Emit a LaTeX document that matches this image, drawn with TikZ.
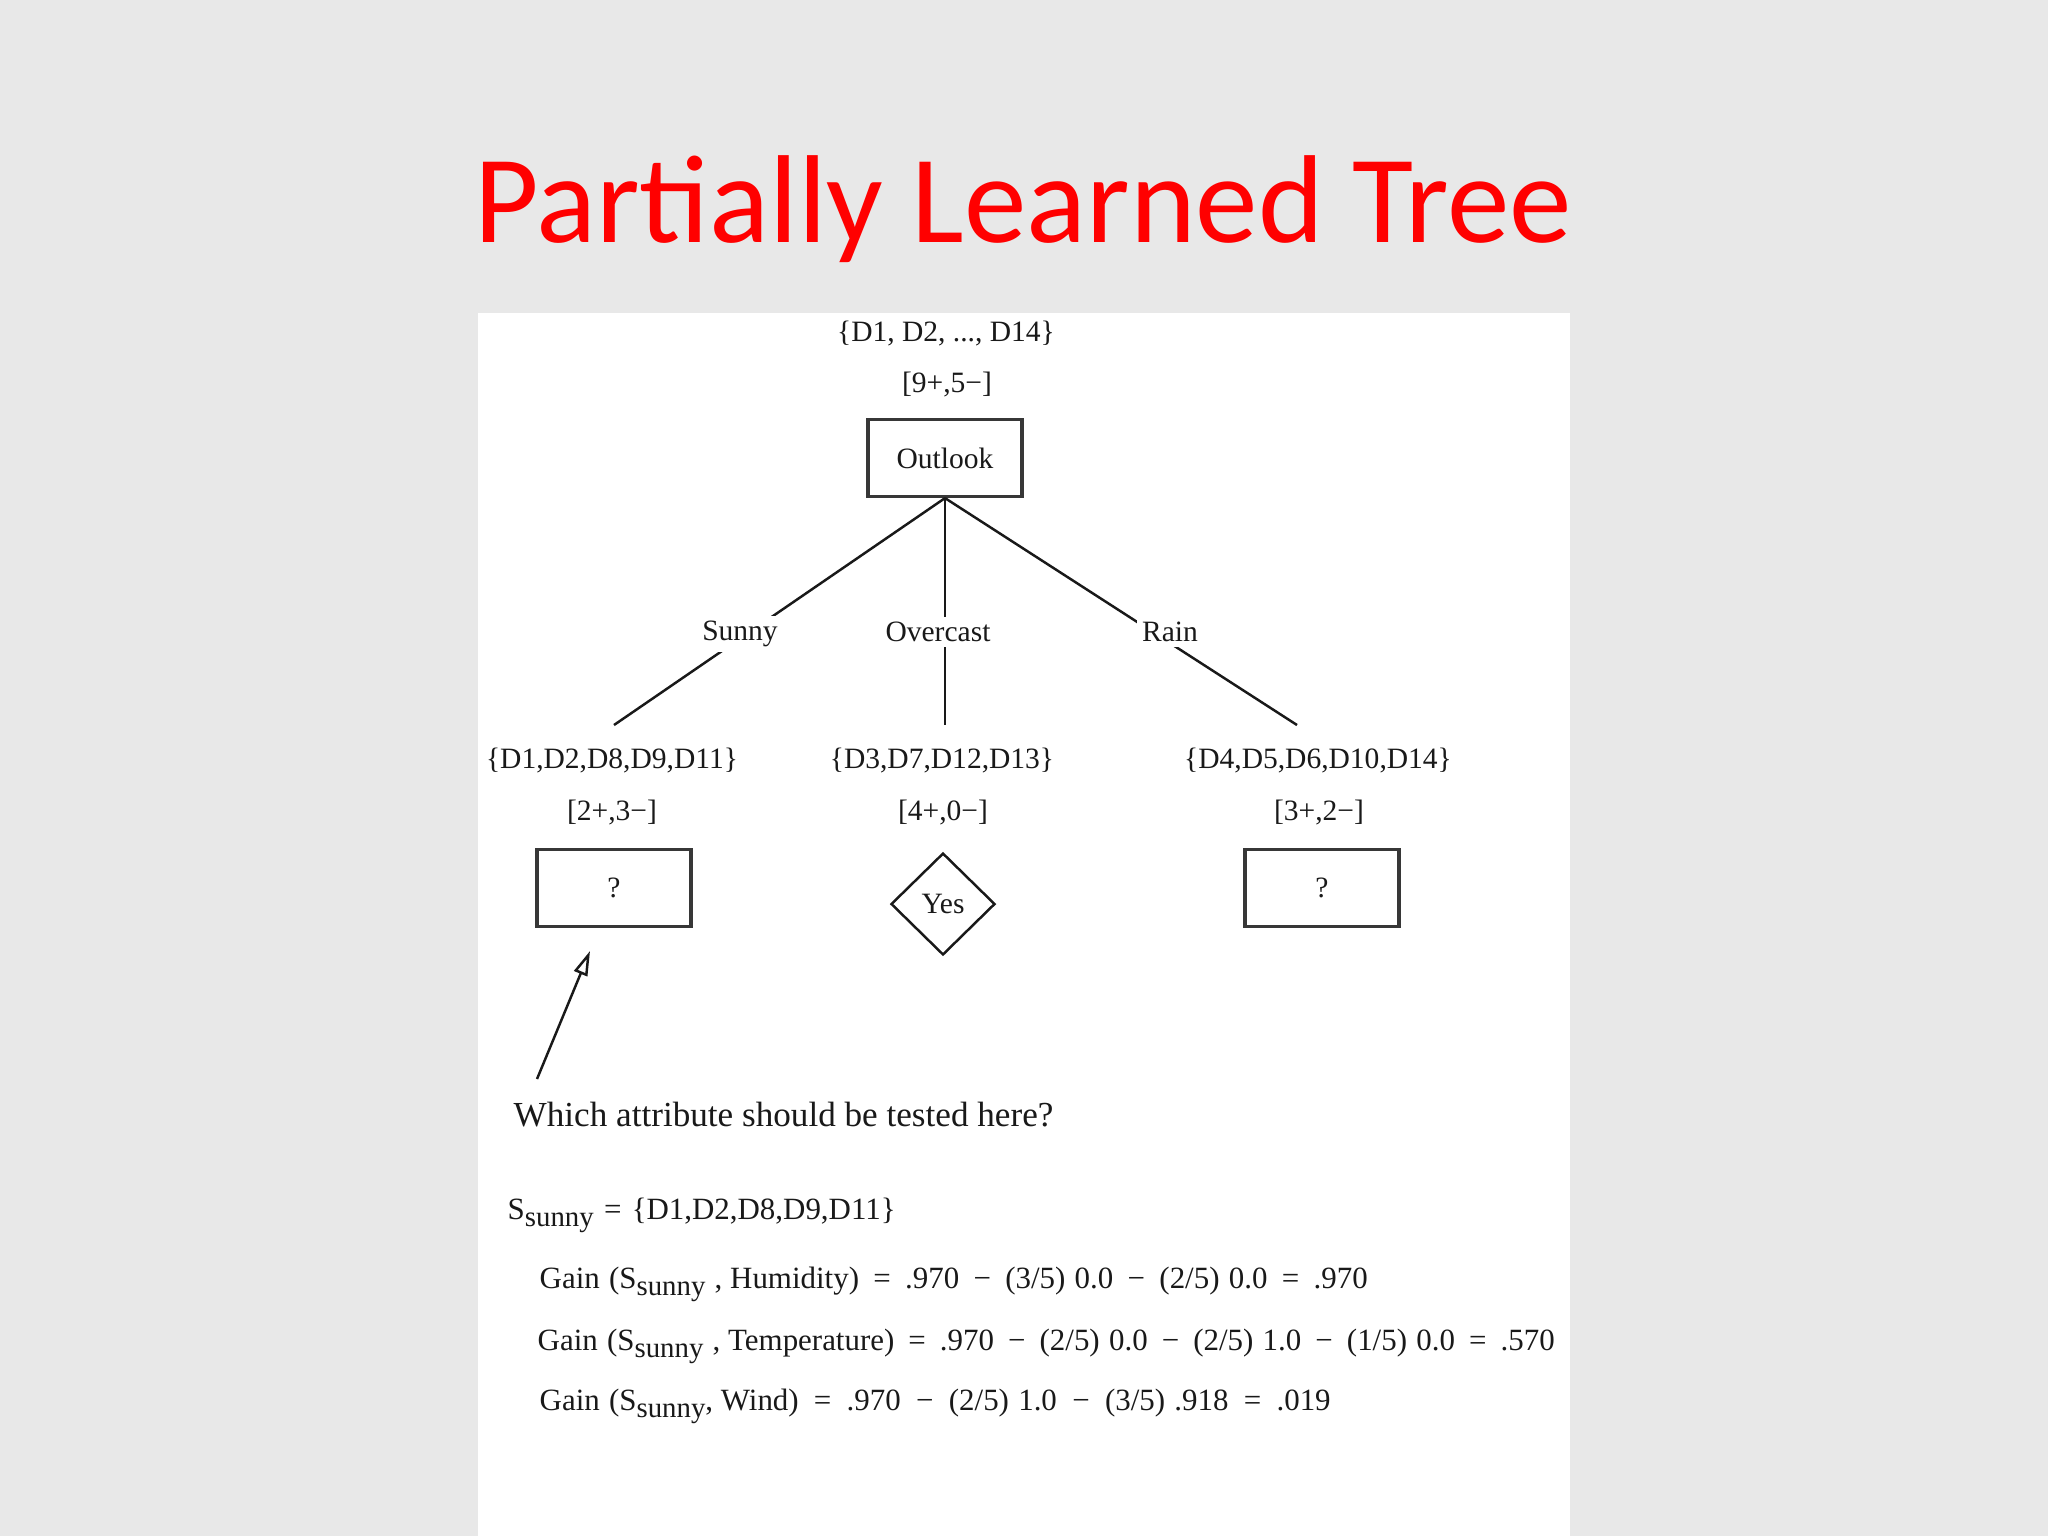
\documentclass[tikz,border=0pt]{standalone}
\usepackage{fontspec}
\setmainfont{Liberation Serif}
\newfontfamily\titlefont{Carlito}
\usetikzlibrary{shapes.geometric,arrows.meta}
\newlength\px \setlength\px{0.1mm}
\definecolor{bggray}{RGB}{232,232,232}
\definecolor{ink}{RGB}{25,25,25}
\definecolor{boxline}{RGB}{55,55,55}
\definecolor{titlered}{RGB}{255,0,0}
\newcommand\Ssunny{S\raisebox{-0.55ex}{\fontsize{8.2pt}{9pt}\selectfont sunny}}
\tikzset{
  treetext/.style={font=\fontsize{8.4pt}{10pt}\selectfont, text=ink, inner sep=0pt},
  eqtext/.style={font=\fontsize{8.8pt}{10pt}\selectfont, text=ink, inner sep=0pt, anchor=base west},
  decbox/.style={treetext, draw=boxline, line width=0.9pt, rectangle, minimum width=43.8pt, minimum height=21.9pt},
  leafdiamond/.style={treetext, draw=ink, line width=0.7pt, diamond, minimum width=29.6pt, minimum height=29pt},
  branch/.style={draw=ink, line width=0.7pt},
  branchlabel/.style={treetext, fill=white, inner sep=1.5pt},
  pointer/.style={draw=ink, line width=0.7pt, -{Triangle[open, length=7pt, width=4pt]}},
}
\begin{document}
\begin{tikzpicture}[x=0.1mm, y=-0.1mm]
\useasboundingbox (0,0) rectangle (2048,1536);
\fill[bggray] (0,0) rectangle (2048,1536);
\fill[white] (478,313) rectangle (1570,1536);

% title
\node[anchor=base, text=titlered, font=\titlefont\fontsize{35.6pt}{40pt}\selectfont, inner sep=0pt] (title) at (1023,242) {Partially Learned Tree};

% root
\node[treetext, anchor=base] (rootset) at (946,341) {\{D1, D2, ..., D14\}};
\node[treetext, anchor=base] (rootcount) at (947,392) {[9+,5−]};
\node[decbox] (outlook) at (945,458) {Outlook};

% branch ends
\coordinate (sunnyend) at (614,725);
\coordinate (overend) at (945,725);
\coordinate (rainend) at (1297,725);
\draw[branch] (outlook.south) -- (sunnyend);
\draw[branch] (outlook.south) -- (overend);
\draw[branch] (outlook.south) -- (rainend);
\node[branchlabel] (lsunny) at (740,634) {Sunny};
\node[branchlabel] (lover) at (938,632) {Overcast};
\node[branchlabel] (lrain) at (1170,632) {Rain};

% children
\node[treetext, anchor=base] (set1) at (612,768) {\{D1,D2,D8,D9,D11\}};
\node[treetext, anchor=base] (cnt1) at (612,820) {[2+,3−]};
\node[decbox] (box1) at (614,888) {?};

\node[treetext, anchor=base] (set2) at (942,768) {\{D3,D7,D12,D13\}};
\node[treetext, anchor=base] (cnt2) at (943,820) {[4+,0−]};
\node[leafdiamond] (yes) at (943,904) {Yes};

\node[treetext, anchor=base] (set3) at (1318,768) {\{D4,D5,D6,D10,D14\}};
\node[treetext, anchor=base] (cnt3) at (1319,820) {[3+,2−]};
\node[decbox] (box3) at (1322,888) {?};

% pointer
\coordinate (ptail) at (537,1079);
\coordinate (phead) at (590,951);
\draw[pointer] (ptail) -- (phead);

\node[anchor=base west, text=ink, inner sep=0pt, font=\fontsize{10pt}{12pt}\selectfont] (question) at (513,1126) {Which attribute should be tested here?};

% equations
\node[eqtext] (sdef) at (507,1219) {\makebox[388\px][s]{\Ssunny{} = \{D1,D2,D8,D9,D11\}}};
\node[eqtext] (ghum) at (539,1288) {\makebox[828\px][s]{Gain\hspace{.3em}(\Ssunny\hspace{.3em},\hspace{.25em}Humidity) = .970 − (3/5)\hspace{.3em}0.0 − (2/5)\hspace{.3em}0.0 = .970}};
\node[eqtext] (gtemp) at (537,1350) {\makebox[1017\px][s]{Gain\hspace{.3em}(\Ssunny\hspace{.3em},\hspace{.25em}Temperature) = .970 − (2/5)\hspace{.3em}0.0 − (2/5)\hspace{.3em}1.0 − (1/5)\hspace{.3em}0.0 = .570}};
\node[eqtext] (gwind) at (539,1410) {\makebox[791\px][s]{Gain\hspace{.3em}(\Ssunny,\hspace{.25em}Wind) = .970 − (2/5)\hspace{.3em}1.0 − (3/5)\hspace{.3em}.918 = .019}};
\end{tikzpicture}
\end{document}
